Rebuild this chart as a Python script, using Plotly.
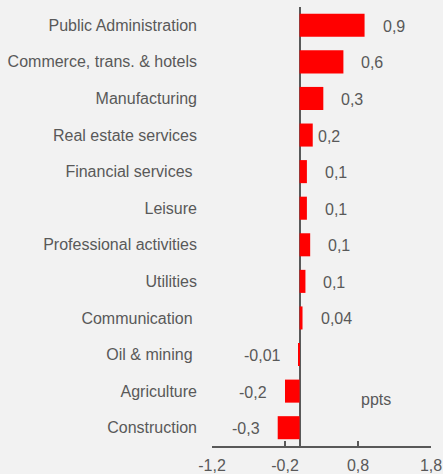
import plotly.graph_objects as go

categories = ["Public Administration", "Commerce, trans. & hotels", "Manufacturing",
              "Real estate services", "Financial services\u00a0", "Leisure",
              "Professional activities", "Utilities", "Communication\u00a0",
              "Oil & mining\u00a0", "Agriculture", "Construction"]
values = [0.89, 0.60, 0.325, 0.18, 0.10, 0.10, 0.145, 0.08, 0.04, -0.01, -0.20, -0.30]
value_labels = ["0,9", "0,6", "0,3", "0,2", "0,1", "0,1", "0,1", "0,1", "0,04", "-0,01", "-0,2", "-0,3"]
tick_vals = [-1.2, -0.2, 0.8, 1.8]
tick_text = ["-1,2", "-0,2", "0,8", "1,8"]

grey = "#595959"
font = "Liberation Sans, Arial, sans-serif"
fs = 16

fig = go.Figure(go.Bar(
    x=values, y=categories, orientation="h",
    marker=dict(color="#ff0000", line=dict(width=0)),
    hoverinfo="skip",
))

for cat, v, lab in zip(categories, values, value_labels):
    shift = 3 if cat == "Real estate services" else 16
    fig.add_annotation(
        x=v, y=cat, text=lab, showarrow=False,
        xanchor="left" if v >= 0 else "right",
        xshift=shift if v >= 0 else -shift, yshift=-1,
        font=dict(family=font, size=fs, color=grey),
    )

fig.add_annotation(x=1.04, y=10.22, text="ppts", showarrow=False,
                   xanchor="center", yanchor="middle",
                   font=dict(family=font, size=fs, color=grey))

fig.update_layout(
    width=443, height=474,
    margin=dict(l=212, r=12, t=7, b=28),
    paper_bgcolor="#f2f2f2", plot_bgcolor="#f2f2f2",
    bargap=0.37, showlegend=False,
    font=dict(family=font, size=fs, color=grey),
    xaxis=dict(range=[-1.2, 1.8], tickvals=tick_vals, ticktext=tick_text,
               automargin=False,
               showgrid=False, zeroline=True, zerolinecolor=grey, zerolinewidth=2,
               showline=True, linecolor=grey, linewidth=2,
               ticks="inside", ticklen=5, tickcolor=grey, tickwidth=2,
               ticklabelstandoff=4,
               tickfont=dict(family=font, size=fs, color=grey), fixedrange=True),
    yaxis=dict(autorange="reversed", automargin=False,
               showgrid=False, zeroline=False, showline=False,
               ticks="", ticklabelstandoff=14,
               tickfont=dict(family=font, size=fs, color=grey), fixedrange=True),
)

fig.write_html("out.html")
